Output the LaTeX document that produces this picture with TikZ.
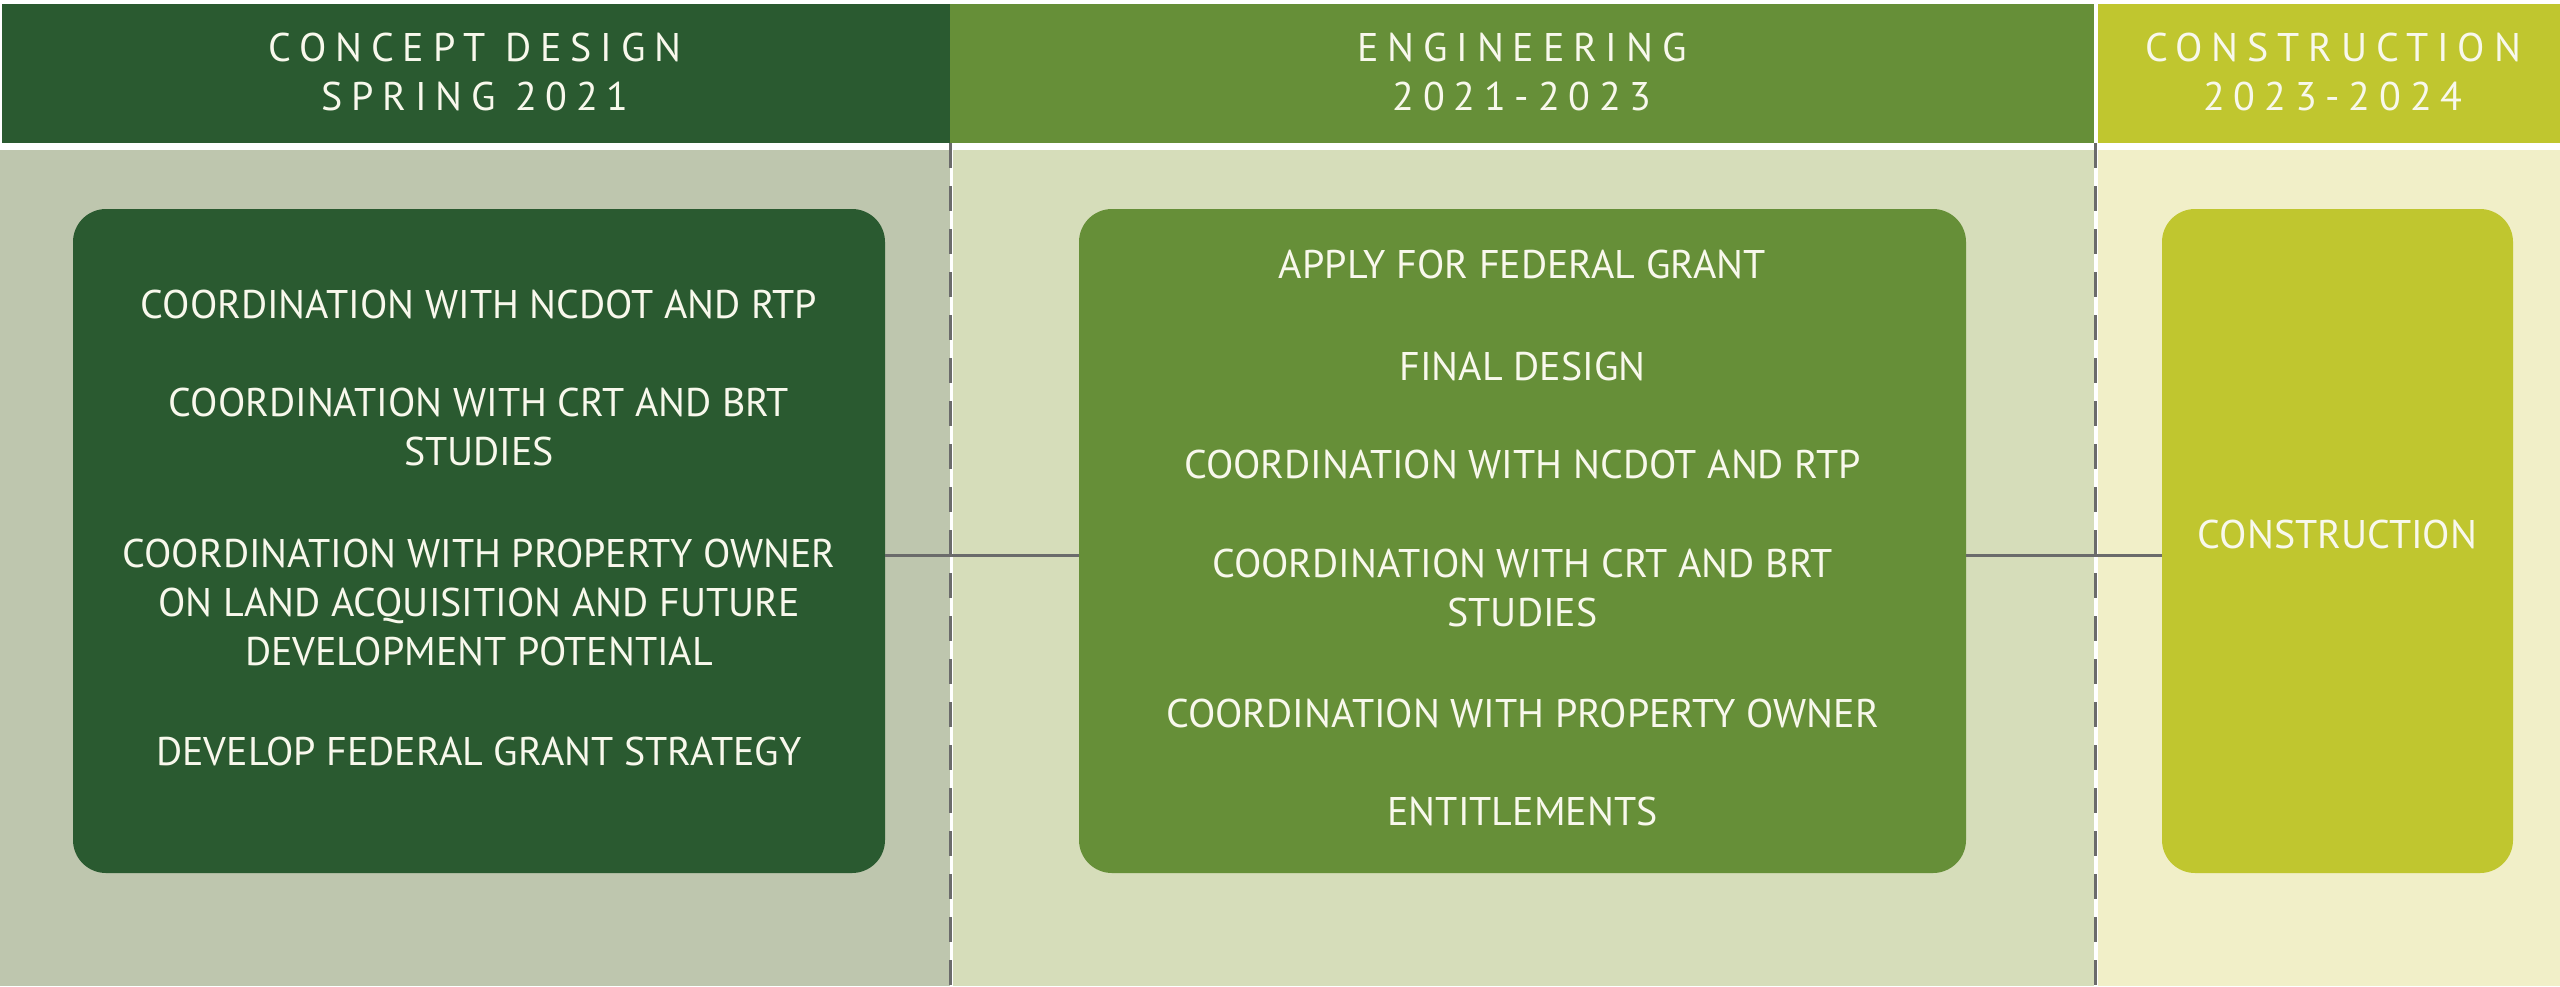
\documentclass[tikz,border=0pt]{standalone}
\usepackage{fontspec}
\setmainfont{PT Sans}
\newfontfamily\headfont[LetterSpace=22]{PT Sans}
\definecolor{hA}{RGB}{42,90,48}
\definecolor{hB}{RGB}{102,143,56}
\definecolor{hC}{RGB}{192,198,47}
\definecolor{bA}{RGB}{190,198,174}
\definecolor{bB}{RGB}{214,221,186}
\definecolor{bC}{RGB}{241,239,200}
\definecolor{lineg}{RGB}{107,107,107}
\definecolor{txt}{RGB}{248,248,236}
\tikzset{
  headtext/.style={text=txt, align=center, font=\headfont\fontsize{40}{49}\selectfont, inner sep=0pt},
  itemtext/.style={text=txt, align=center, font=\fontsize{40}{49}\selectfont, inner sep=0pt},
  phasebox/.style={rounded corners=33pt, inner sep=0pt},
  divider/.style={draw=lineg, line width=3pt, dash pattern=on 25pt off 18pt},
  link/.style={draw=lineg, line width=3pt}
}
\begin{document}
\begin{tikzpicture}[x=1pt,y=-1pt]
\useasboundingbox (0,0) rectangle (2560,986);
\fill[white] (0,0) rectangle (2560,986);
% header bands
\fill[hA] (2,4) rectangle (950,143);
\fill[hB] (950,4) rectangle (2094,143);
\fill[hC] (2098,4) rectangle (2560,143);
% body bands
\fill[bA] (0,150) rectangle (950,986);
\fill[bB] (953,150) rectangle (2094,986);
\fill[bC] (2098,150) rectangle (2560,986);
% header texts
\node[headtext] (t1) at (475,72) {CONCEPT DESIGN\\SPRING 2021};
\node[headtext] (t2) at (1522,72) {ENGINEERING\\2021-2023};
\node[headtext] (t3) at (2333,72) {CONSTRUCTION\\2023-2024};
% dividers
\coordinate (d1a) at (950,143);
\coordinate (d1b) at (950,986);
\coordinate (d2a) at (2095,143);
\coordinate (d2b) at (2095,986);
\draw[divider] (d1a) -- (d1b);
\draw[divider] (d2a) -- (d2b);
% boxes
\node[phasebox, fill=hA, minimum width=812pt, minimum height=664pt] (b1) at (479,541) {};
\node[phasebox, fill=hB, minimum width=887pt, minimum height=664pt] (b2) at (1522.5,541) {};
\node[phasebox, fill=hC, minimum width=351pt, minimum height=664pt] (b3) at (2337.5,541) {};
% connectors
\draw[link] (b1.east |- 0,555) -- (b2.west |- 0,555);
\draw[link] (b2.east |- 0,555) -- (b3.west |- 0,555);
% box 1 items
\node[itemtext] (a1) at (479,304) {COORDINATION WITH NCDOT AND RTP};
\node[itemtext] (a2) at (479,427) {COORDINATION WITH CRT AND BRT\\STUDIES};
\node[itemtext] (a3) at (479,602) {COORDINATION WITH PROPERTY OWNER\\ON LAND ACQUISITION AND FUTURE\\DEVELOPMENT POTENTIAL};
\node[itemtext] (a4) at (479,751) {DEVELOP FEDERAL GRANT STRATEGY};
% box 2 items
\node[itemtext] (e1) at (1522.5,264) {APPLY FOR FEDERAL GRANT};
\node[itemtext] (e2) at (1522.5,366) {FINAL DESIGN};
\node[itemtext] (e3) at (1522.5,464) {COORDINATION WITH NCDOT AND RTP};
\node[itemtext] (e4) at (1522.5,588) {COORDINATION WITH CRT AND BRT\\STUDIES};
\node[itemtext] (e5) at (1522.5,713) {COORDINATION WITH PROPERTY OWNER};
\node[itemtext] (e6) at (1522.5,811) {ENTITLEMENTS};
% box 3 item
\node[itemtext] (c1) at (2337.5,534) {CONSTRUCTION};
\end{tikzpicture}
\end{document}
